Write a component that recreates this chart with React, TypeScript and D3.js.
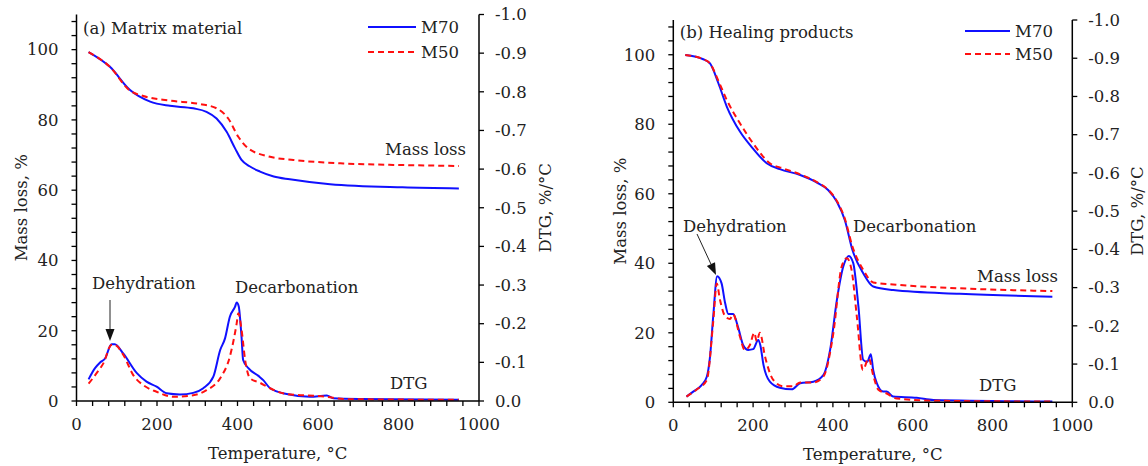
import React from "react";
import * as d3 from "d3";

// ---------- Data ----------
// Panel (a) Matrix material — mass loss (%)
const aMassM70T = [30, 83, 133, 183, 232, 290, 323, 348, 373, 394, 410, 430, 456, 490, 530, 630, 810, 950];
const aMassM70 = [99.3, 95.1, 88.5, 85.2, 84.0, 83.3, 82.3, 80.4, 76.6, 71.9, 68.6, 66.8, 65.3, 63.9, 63.1, 61.7, 60.8, 60.5];
const aMassM50T = [30, 83, 133, 166, 232, 307, 348, 377, 402, 427, 481, 539, 663, 787, 950];
const aMassM50 = [99.3, 95.1, 88.3, 86.8, 85.5, 84.5, 83.3, 80.4, 75.2, 71.9, 69.5, 68.6, 67.6, 67.2, 66.9];
// Panel (a) DTG (%/°C)
const aDtgM70T = [30, 46, 58, 71, 87, 95, 116, 150, 174, 199, 224, 257, 290, 315, 340, 357, 369, 381, 394, 398, 403, 410, 414, 427, 452, 464, 481, 522, 580, 622, 638, 704, 950];
const aDtgM70 = [-0.056, -0.085, -0.099, -0.11, -0.147, -0.147, -0.123, -0.072, -0.05, -0.037, -0.02, -0.017, -0.021, -0.033, -0.063, -0.132, -0.162, -0.218, -0.244, -0.255, -0.245, -0.166, -0.106, -0.085, -0.065, -0.054, -0.033, -0.018, -0.011, -0.014, -0.007, -0.005, -0.003];
const aDtgM50T = [30, 50, 67, 87, 95, 116, 141, 166, 199, 240, 290, 323, 357, 381, 398, 402, 410, 419, 431, 456, 481, 522, 622, 663, 950];
const aDtgM50 = [-0.045, -0.072, -0.098, -0.145, -0.145, -0.12, -0.067, -0.041, -0.024, -0.011, -0.015, -0.028, -0.059, -0.115, -0.201, -0.227, -0.185, -0.106, -0.059, -0.047, -0.033, -0.018, -0.011, -0.005, -0.003];

// Panel (b) Healing products — mass loss (%)
const bMassM70T = [30, 75, 92, 113, 134, 167, 196, 234, 267, 318, 359, 388, 410, 430, 449, 476, 501, 551, 718, 950];
const bMassM70 = [99.9, 98.7, 97.5, 91.8, 85.1, 77.9, 73.5, 68.8, 67.1, 65.4, 63.3, 61.1, 57.7, 52.4, 43.8, 37.1, 33.3, 32.3, 31.2, 30.4];
const bMassM50T = [30, 75, 92, 113, 134, 167, 200, 242, 275, 318, 359, 388, 410, 430, 449, 476, 501, 551, 718, 950];
const bMassM50 = [99.9, 98.7, 97.5, 92.5, 87.0, 80.3, 74.5, 68.8, 67.3, 65.6, 63.4, 61.2, 57.9, 52.8, 44.8, 38.1, 34.5, 33.9, 32.8, 32.0];
// Panel (b) DTG (%/°C)
const bDtgM70T = [33, 50, 71, 84, 92, 100, 110, 121, 130, 138, 150, 163, 175, 188, 200, 213, 218, 226, 242, 267, 297, 318, 351, 376, 393, 410, 426, 440, 451, 464, 476, 486, 495, 501, 510, 526, 535, 551, 610, 652, 950];
const bDtgM70 = [-0.015, -0.028, -0.045, -0.067, -0.119, -0.224, -0.33, -0.311, -0.259, -0.231, -0.231, -0.194, -0.15, -0.137, -0.139, -0.163, -0.15, -0.098, -0.054, -0.038, -0.034, -0.05, -0.054, -0.071, -0.137, -0.268, -0.355, -0.383, -0.364, -0.25, -0.111, -0.106, -0.126, -0.084, -0.05, -0.028, -0.028, -0.015, -0.012, -0.006, -0.002];
const bDtgM50T = [33, 58, 84, 100, 109, 117, 130, 142, 150, 167, 179, 192, 203, 209, 217, 230, 251, 276, 301, 318, 351, 376, 401, 422, 435, 447, 460, 475, 490, 501, 514, 535, 560, 660, 950];
const bDtgM50 = [-0.015, -0.033, -0.058, -0.21, -0.311, -0.268, -0.225, -0.218, -0.23, -0.172, -0.137, -0.15, -0.182, -0.16, -0.182, -0.119, -0.058, -0.042, -0.042, -0.052, -0.052, -0.067, -0.18, -0.355, -0.377, -0.345, -0.224, -0.085, -0.115, -0.071, -0.033, -0.023, -0.01, -0.004, -0.002];

// Tick values / labels
const xMajorTicks = [0, 200, 400, 600, 800, 1000];
const massMajorTicks = [0, 20, 40, 60, 80, 100];
const dtgTicks = [0, -0.1, -0.2, -0.3, -0.4, -0.5, -0.6, -0.7, -0.8, -0.9, -1.0];
const seriesNames = ["M70", "M50"];

const FONT = "'DejaVu Serif', 'Liberation Serif', serif";
const BLUE = "#1010ff";
const RED = "#ff1010";

type Pt = [number, number];
const zip = (t: number[], v: number[]): Pt[] => t.map((x, i) => [x, v[i]]);

interface PanelProps {
  x0: number; x1: number; yTop: number; yBot: number;
  title: string;
  massM70: Pt[]; massM50: Pt[]; dtgM70: Pt[]; dtgM50: Pt[];
  ann: {
    legendLineX: [number, number]; legendY: [number, number];
    dehyd: [number, number]; arrow: [number, number, number, number];
    decarb: [number, number]; massLoss: [number, number]; dtg: [number, number];
    leftTitleX: number; rightTitleX: number; titleY: number;
  };
}

function Panel(p: PanelProps) {
  const x = d3.scaleLinear().domain([0, 1000]).range([p.x0, p.x1]);
  const ym = d3.scaleLinear().domain([0, 110]).range([p.yBot, p.yTop]);
  const yd = d3.scaleLinear().domain([0, -1.0]).range([p.yBot, p.yTop]);
  const lm = d3.line<Pt>().x(d => x(d[0])).y(d => ym(d[1])).curve(d3.curveMonotoneX);
  const ld = d3.line<Pt>().x(d => x(d[0])).y(d => yd(d[1])).curve(d3.curveMonotoneX);
  const xMinor = d3.range(0, 1001, 40);
  const mMinor = d3.range(0, 109, 4);
  const a = p.ann;
  const fs = 16.5;
  const [ax1, ay1, ax2, ay2] = a.arrow;
  const ang = Math.atan2(ay2 - ay1, ax2 - ax1);
  const hl = 12, hw = 4.5;
  const bx = ax2 - hl * Math.cos(ang), by = ay2 - hl * Math.sin(ang);
  const head = `M${ax2},${ay2} L${bx + hw * Math.sin(ang)},${by - hw * Math.cos(ang)} L${bx - hw * Math.sin(ang)},${by + hw * Math.cos(ang)} Z`;
  const midY = (p.yTop + p.yBot) / 2;
  return (
    <g fontFamily={FONT} fontSize={fs} fill="#222">
      {/* curves */}
      <path d={lm(p.massM70) || ""} fill="none" stroke={BLUE} strokeWidth={2} />
      <path d={lm(p.massM50) || ""} fill="none" stroke={RED} strokeWidth={2} strokeDasharray="6,4" />
      <path d={ld(p.dtgM70) || ""} fill="none" stroke={BLUE} strokeWidth={2} />
      <path d={ld(p.dtgM50) || ""} fill="none" stroke={RED} strokeWidth={2} strokeDasharray="6,4" />
      {/* axes lines */}
      <line x1={p.x0} x2={p.x0} y1={p.yTop} y2={p.yBot} stroke="#000" strokeWidth={1.5} />
      <line x1={p.x1} x2={p.x1} y1={p.yTop} y2={p.yBot} stroke="#000" strokeWidth={1.5} />
      <line x1={p.x0} x2={p.x1} y1={p.yBot} y2={p.yBot} stroke="#000" strokeWidth={1.5} />
      {/* x ticks */}
      {xMinor.map(t => (
        <line key={"xt" + t} x1={x(t)} x2={x(t)} y1={p.yBot} y2={p.yBot + 5} stroke="#000" strokeWidth={1.3} />
      ))}
      {xMajorTicks.map(t => (
        <text key={"xl" + t} x={x(t)} y={p.yBot + 23} dy="0.35em" textAnchor="middle">{t}</text>
      ))}
      {/* left ticks */}
      {mMinor.map(t => (
        <line key={"mt" + t} x1={p.x0 - 5} x2={p.x0} y1={ym(t)} y2={ym(t)} stroke="#000" strokeWidth={1.3} />
      ))}
      {massMajorTicks.map(t => (
        <text key={"ml" + t} x={p.x0 - 18} y={ym(t)} dy="0.35em" textAnchor="end">{t}</text>
      ))}
      {/* right ticks */}
      {dtgTicks.map(t => (
        <g key={"dt" + t}>
          <line x1={p.x1} x2={p.x1 + 5} y1={yd(t)} y2={yd(t)} stroke="#000" strokeWidth={1.3} />
          <text x={p.x1 + 16} y={yd(t)} dy="0.35em" textAnchor="start">{t === 0 ? "0.0" : d3.format(".1f")(t).replace("−", "-")}</text>
        </g>
      ))}
      {/* axis titles */}
      <text x={(p.x0 + p.x1) / 2} y={p.yBot + 52} dy="0.35em" textAnchor="middle">Temperature, °C</text>
      <text transform={`translate(${a.leftTitleX},${midY}) rotate(-90)`} dy="0.35em" textAnchor="middle">Mass loss, %</text>
      <text transform={`translate(${a.rightTitleX},${midY}) rotate(-90)`} dy="0.35em" textAnchor="middle">DTG, %/°C</text>
      {/* title */}
      <text x={p.x0 + 6.5} y={a.titleY} dy="0.35em">{p.title}</text>
      {/* legend */}
      <line x1={a.legendLineX[0]} x2={a.legendLineX[1]} y1={a.legendY[0]} y2={a.legendY[0]} stroke={BLUE} strokeWidth={2} />
      <line x1={a.legendLineX[0]} x2={a.legendLineX[1]} y1={a.legendY[1]} y2={a.legendY[1]} stroke={RED} strokeWidth={2} strokeDasharray="6,4" />
      <text x={a.legendLineX[1] + 5} y={a.legendY[0]} dy="0.35em">{seriesNames[0]}</text>
      <text x={a.legendLineX[1] + 5} y={a.legendY[1]} dy="0.35em">{seriesNames[1]}</text>
      {/* annotations */}
      <text x={a.dehyd[0]} y={a.dehyd[1]} dy="0.35em">Dehydration</text>
      <text x={a.decarb[0]} y={a.decarb[1]} dy="0.35em">Decarbonation</text>
      <text x={a.massLoss[0]} y={a.massLoss[1]} dy="0.35em">Mass loss</text>
      <text x={a.dtg[0]} y={a.dtg[1]} dy="0.35em">DTG</text>
      <line x1={ax1} y1={ay1} x2={bx} y2={by} stroke="#222" strokeWidth={1} />
      <path d={head} fill="#111" />
    </g>
  );
}

export default function App() {
  return (
    <svg width={1148} height={466} style={{ position: "absolute", left: 0, top: 0, background: "#fff" }}>
      <rect width={1148} height={466} fill="#fff" />
      <Panel
        x0={76.5} x1={479} yTop={14.5} yBot={401}
        title="(a) Matrix material"
        massM70={zip(aMassM70T, aMassM70)} massM50={zip(aMassM50T, aMassM50)}
        dtgM70={zip(aDtgM70T, aDtgM70)} dtgM50={zip(aDtgM50T, aDtgM50)}
        ann={{
          legendLineX: [368, 416], legendY: [27, 52],
          dehyd: [92, 283], arrow: [110, 300, 110, 341],
          decarb: [235, 287], massLoss: [385, 149], dtg: [390, 383],
          leftTitleX: 21, rightTitleX: 545, titleY: 28,
        }}
      />
      <Panel
        x0={673.3} x1={1072.3} yTop={20} yBot={402.3}
        title="(b) Healing products"
        massM70={zip(bMassM70T, bMassM70)} massM50={zip(bMassM50T, bMassM50)}
        dtgM70={zip(bDtgM70T, bDtgM70)} dtgM50={zip(bDtgM50T, bDtgM50)}
        ann={{
          legendLineX: [965, 1010], legendY: [31, 54],
          dehyd: [683, 226], arrow: [697, 234, 716, 275],
          decarb: [853, 226], massLoss: [977, 276], dtg: [979, 385],
          leftTitleX: 620, rightTitleX: 1137, titleY: 32,
        }}
      />
    </svg>
  );
}
